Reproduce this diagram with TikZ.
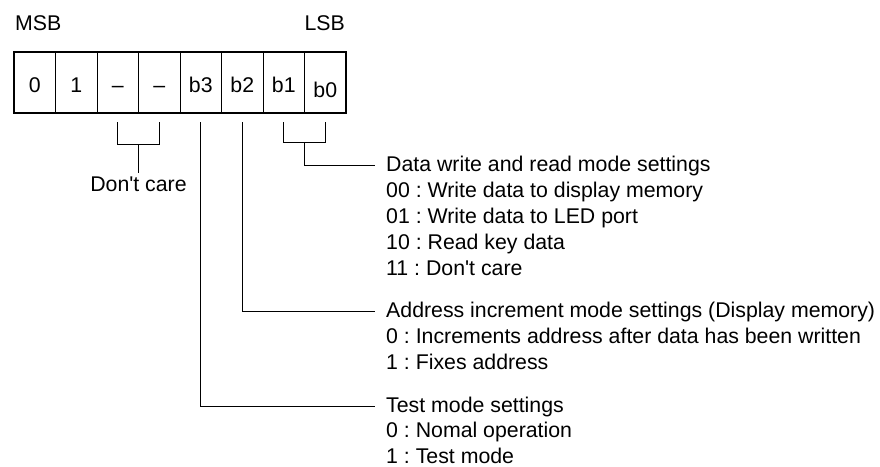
\documentclass[tikz,border=0pt]{standalone}
\usepackage{fontspec}
\setmainfont{Liberation Sans}
\frenchspacing

\tikzset{
  bitcell/.style={draw, line width=0.8pt, minimum width=41.5pt, minimum height=61pt,
                  inner sep=0pt, text height=19pt, text depth=0pt},
  txt/.style={anchor=base west, inner xsep=11pt, inner ysep=0pt,
              text height=15pt, text depth=4pt},
  wire/.style={line width=0.8pt}
}

\begin{document}
\begin{tikzpicture}[x=1pt, y=-1pt, every node/.style={font=\fontsize{21.3}{25}\selectfont}]
\useasboundingbox (0,0) rectangle (880,466);

% the command byte
\node[bitcell] (bit7) at (34.75,82.5) {0};
\node[bitcell] (bit6) at (76.25,82.5) {1};
\node[bitcell] (bit5) at (117.75,82.5) {\textendash};
\node[bitcell] (bit4) at (159.25,82.5) {\textendash};
\node[bitcell] (bit3) at (200.75,82.5) {b3};
\node[bitcell] (bit2) at (242.25,82.5) {b2};
\node[bitcell] (bit1) at (283.75,82.5) {b1};
\node[bitcell] (bit0) at (325.25,82.5) {\raisebox{-5pt}{b0}};
\draw[line width=2pt] (bit7.north west) rectangle (bit0.south east);

\node[anchor=base west, inner sep=0pt] (msb) at (15,30) {MSB};
\node[anchor=base east, inner sep=0pt] (lsb) at (345,30) {LSB};

% don't care bits
\node[anchor=base] (dontcare) at (138.5,191) {Don\textquotesingle t care};
\draw[wire] ([yshift=-9pt]bit5.south) |- ([yshift=-31pt]bit4.south) coordinate (dcbot)
            -- ([yshift=-9pt]bit4.south);
\draw[wire] (dcbot -| dontcare.north) -- (dontcare.north);

% b1 b0
\node[txt] (datahd) at (375,171) {Data write and read mode settings};
\node[txt] (data00) at (375,197) {00 : Write data to display memory};
\node[txt] (data01) at (375,223) {01 : Write data to LED port};
\node[txt] (data10) at (375,249) {10 : Read key data};
\node[txt] (data11) at (375,275) {11 : Don\textquotesingle t care};
\draw[wire] ([yshift=-9pt]bit1.south) |- ([yshift=-29pt]bit0.south) coordinate (rwbot)
            -- ([yshift=-9pt]bit0.south);
\draw[wire] ([xshift=-20.75pt]rwbot) |- (datahd.west);

% b2
\node[txt] (addrhd) at (375,317) {Address increment mode settings (Display memory)};
\node[txt] (addr0) at (375,343) {0 : Increments address after data has been written};
\node[txt] (addr1) at (375,369) {1 : Fixes address};
\draw[wire] ([yshift=-9pt]bit2.south) |- (addrhd.west);

% b3
\node[txt] (testhd) at (375,412) {Test mode settings};
\node[txt] (test0) at (375,437) {0 : Nomal operation};
\node[txt] (test1) at (375,463) {1 : Test mode};
\draw[wire] ([yshift=-9pt]bit3.south) |- (testhd.west);
\end{tikzpicture}
\end{document}
